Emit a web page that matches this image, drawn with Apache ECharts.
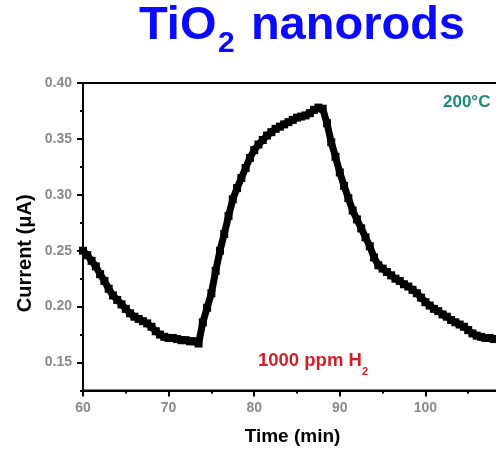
<!DOCTYPE html>
<html><head><meta charset="utf-8">
<script src="https://cdn.jsdelivr.net/npm/echarts@6/dist/echarts.min.js"></script>
<style>html,body{margin:0;padding:0;background:#fff}#c{width:496px;height:450px}</style>
</head><body><div id="c"></div>
<script>
const timeMin = [60,60.5,61,61.5,62,62.5,63,63.5,64,64.5,65,65.5,66,66.5,67,67.5,68,68.5,69,69.5,70,70.5,71,71.5,72,72.5,73,73.5,
74,74.5,75,75.5,76,76.5,77,77.5,78,78.5,79,79.5,80,80.5,81,81.5,82,82.5,83,83.5,84,84.5,85,85.5,86,86.5,87,87.5,88,
88.5,89,89.5,90,90.5,91,91.5,92,92.5,93,93.5,94,94.5,95,95.5,96,96.5,97,97.5,98,98.5,99,99.5,100,100.5,101,101.5,102,102.5,
103,103.5,104,104.5,105,105.5,106,106.5,107,107.5,108,108.5,109];
const currentUA = [0.250,0.246,0.241,0.236,0.229,0.223,0.216,0.210,0.206,0.202,0.198,0.194,0.191,0.189,0.187,0.185,0.182,0.178,0.175,0.173,0.172,0.172,0.171,0.170,0.170,0.169,0.169,0.167,
0.186,0.199,0.212,0.232,0.250,0.265,0.281,0.296,0.306,0.315,0.324,0.333,0.340,0.345,0.349,0.353,0.356,0.359,0.361,0.363,0.365,0.367,0.369,0.370,0.371,0.373,0.376,0.378,0.377,
0.364,0.347,0.334,0.320,0.308,0.297,0.286,0.278,0.270,0.262,0.254,0.244,0.237,0.234,0.231,0.228,0.225,0.223,0.220,0.218,0.215,0.212,0.208,0.204,0.201,0.198,0.196,0.193,0.191,
0.188,0.186,0.184,0.182,0.179,0.176,0.174,0.173,0.172,0.172,0.171,0.171,0.170];
const yLabelValues = [0.15,0.20,0.25,0.30,0.35,0.40];
const yMinorValues = [0.125,0.175,0.225,0.275,0.325,0.375];

const FF = "'Liberation Sans', Arial, sans-serif";
const chart = echarts.init(document.getElementById('c'), null, {renderer:'canvas'});
const tickLabel = {color:'#8a8a8a', fontWeight:'bold', fontSize:14, fontFamily:FF};
function txt(text, x, y, size, color, align, extra) {
  return Object.assign({type:'text', x:x, y:y, style:{text:text, font:'bold '+size+'px '+FF, fill:color, align:align||'left', verticalAlign:'middle'}}, extra||{});
}
chart.setOption({
  animation:false,
  grid:{left:83, top:83, width:428, height:307.5, outerBoundsMode:'none', containLabel:false, show:true, borderColor:'#000', borderWidth:2, backgroundColor:'transparent'},
  xAxis:[{type:'value', min:60, max:110, interval:10,
    axisLine:{show:true, onZero:false, lineStyle:{color:'#000', width:2}},
    axisTick:{show:true, length:6, lineStyle:{color:'#000', width:2}},
    minorTick:{show:true, splitNumber:2, length:3, lineStyle:{color:'#000', width:2}},
    axisLabel:Object.assign({margin:11}, tickLabel),
    splitLine:{show:false}, minorSplitLine:{show:false}}],
  yAxis:[{type:'value', min:0.125, max:0.40,
    axisLine:{show:true, onZero:false, lineStyle:{color:'#000', width:2}},
    axisTick:{show:true, length:6, customValues:yLabelValues, lineStyle:{color:'#000', width:2}},
    axisLabel:Object.assign({margin:11, customValues:yLabelValues, formatter:v=>v.toFixed(2)}, tickLabel),
    splitLine:{show:false}},
   {type:'value', min:0.125, max:0.40, position:'left',
    axisLine:{show:false, onZero:false},
    axisTick:{show:true, length:3, customValues:yMinorValues, lineStyle:{color:'#000', width:2}},
    axisLabel:{show:false}, splitLine:{show:false}}],
  series:[{type:'line', xAxisIndex:0, yAxisIndex:0,
    data: timeMin.map((t,i)=>[t, currentUA[i]]),
    symbol:'rect', symbolSize:8, showSymbol:true,
    itemStyle:{color:'#000'}, lineStyle:{color:'#000', width:7}, clip:true}],
  graphic:[
    txt('TiO', 139, 26.5, 47, '#0a0aff', 'left'),
    txt('2', 218, 44, 30, '#0a0aff', 'left'),
    txt('nanorods', 465, 26.5, 47, '#0a0aff', 'right'),
    txt('200°C', 443, 102, 17, '#1f8a7c', 'left'),
    txt('1000 ppm H', 258, 360.7, 18.5, '#d41e2a', 'left'),
    txt('2', 362, 371.5, 11, '#d41e2a', 'left'),
    txt('Time (min)', 292.5, 436.5, 19, '#000', 'center'),
    txt('Current (μA)', 25, 253.3, 20, '#000', 'center', {rotation:Math.PI/2})
  ]
});
</script></body></html>
